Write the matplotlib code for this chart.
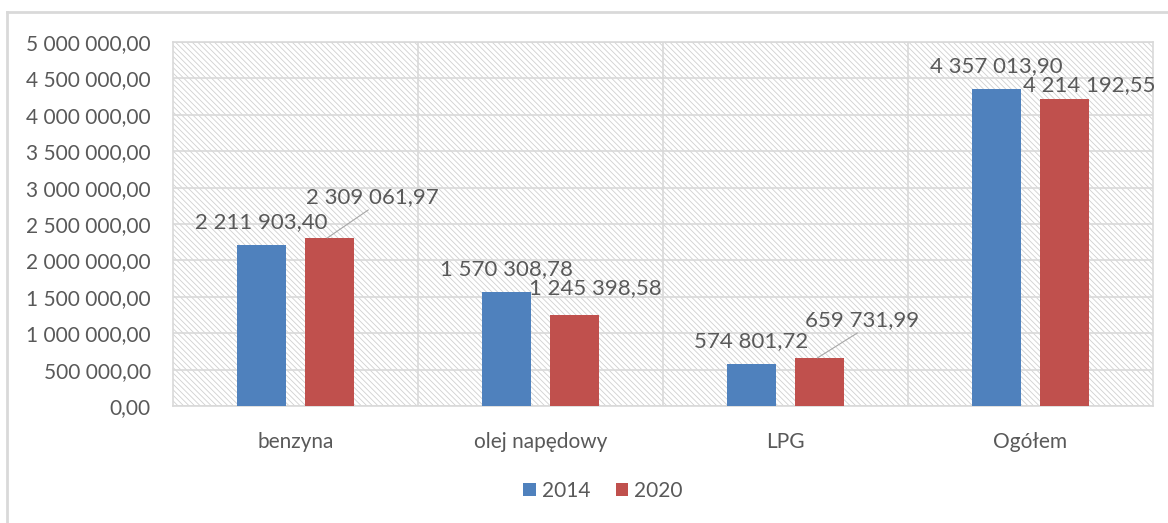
import matplotlib
matplotlib.use("Agg")
import matplotlib.pyplot as plt
from matplotlib.patches import Rectangle
from matplotlib.lines import Line2D
import numpy as np

categories = ["benzyna", "olej napędowy", "LPG", "Ogółem"]
years = ["2014", "2020"]
values_2014 = [2211903.40, 1570308.78, 574801.72, 4357013.90]
values_2020 = [2309061.97, 1245398.58, 659731.99, 4214192.55]
y_ticks = [0, 500000, 1000000, 1500000, 2000000, 2500000, 3000000,
           3500000, 4000000, 4500000, 5000000]

BLUE = "#4F81BD"
RED = "#C0504D"
TEXT = "#595959"
GRID = "#D9D9D9"

# label offsets (pixels) for the 2020 labels, moved by hand in the original
red_label_offsets = [(43, 31), (21, 17), (42, 28), (24, 4)]
red_leader = [True, False, True, False]

plt.rcParams["font.family"] = ["Lato", "DejaVu Sans"]
plt.rcParams["hatch.linewidth"] = 0.6
plt.rcParams["hatch.color"] = "#D0D0D0"


def fmt(v):
    return f"{v:,.2f}".replace(",", " ").replace(".", ",")


fig = plt.figure(figsize=(11.68, 5.23), dpi=100)
ax = fig.add_axes([173 / 1168, 1 - 406 / 523, (1153 - 173) / 1168, (406 - 42) / 523])

# outer chart border (top and left visible in the reference)
fig.add_artist(Line2D([7 / 1168, 1.0], [1 - 12 / 523] * 2, transform=fig.transFigure,
                      color=GRID, lw=2))
fig.add_artist(Line2D([7 / 1168] * 2, [0, 1 - 12 / 523], transform=fig.transFigure,
                      color=GRID, lw=2))

x = np.arange(len(categories))
width = 0.2
off = 0.14

ax.add_patch(Rectangle((0, 0), 1, 1, transform=ax.transAxes, facecolor="white",
                       edgecolor="#D0D0D0", hatch="\\\\\\\\\\\\", lw=0, zorder=0))

ax.set_xlim(-0.5, len(categories) - 0.5)
ax.set_ylim(0, 5000000)
ax.set_yticks(y_ticks)
ax.set_yticklabels([fmt(v) for v in y_ticks])
ax.yaxis.grid(True, color=GRID, lw=1.2, zorder=1)
for b in [0.5, 1.5, 2.5]:
    ax.axvline(b, color=GRID, lw=1.2, zorder=1)
ax.set_axisbelow(True)

b1 = ax.bar(x - off, values_2014, width, color=BLUE, label=years[0], zorder=3)
b2 = ax.bar(x + off, values_2020, width, color=RED, label=years[1], zorder=3)

for i, v in enumerate(values_2014):
    ax.annotate(fmt(v), (x[i] - off, v), xytext=(0, 13), textcoords="offset pixels",
                ha="center", va="bottom", fontsize=16, color=TEXT, zorder=5)
for i, v in enumerate(values_2020):
    dx, dy = red_label_offsets[i]
    ax.annotate(fmt(v), (x[i] + off, v), xytext=(dx, dy), textcoords="offset pixels",
                ha="center", va="bottom", fontsize=16, color=TEXT, zorder=5)
    if red_leader[i]:
        ax.annotate("", (x[i] + off - 0.01, v), xytext=(dx - 2, dy - 3),
                    textcoords="offset pixels",
                    arrowprops=dict(arrowstyle="-", color="#A6A6A6", lw=0.8,
                                    shrinkA=0, shrinkB=0), zorder=4)

ax.set_xticks(x)
ax.set_xticklabels(categories)
ax.tick_params(axis="both", length=0, labelsize=15, labelcolor=TEXT)
ax.tick_params(axis="y", pad=16)
ax.tick_params(axis="x", pad=19)
for s in ax.spines.values():
    s.set_color(GRID)
    s.set_linewidth(1.2)

leg = fig.legend(handles=[b1, b2], loc="center", bbox_to_anchor=(603 / 1168, 1 - 491 / 523),
                 ncol=2, frameon=False, fontsize=15, handlelength=0.6, handleheight=0.6,
                 handletextpad=0.3, columnspacing=1.2)
for t in leg.get_texts():
    t.set_color(TEXT)

fig.savefig("out.png", dpi=100)
